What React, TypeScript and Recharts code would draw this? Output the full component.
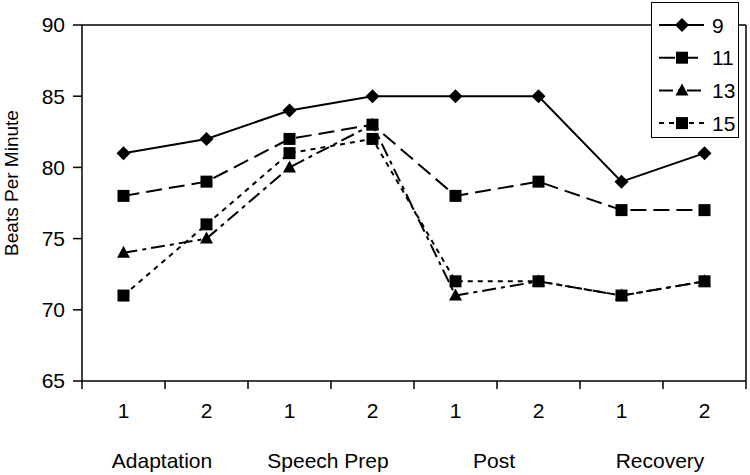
import React from 'react';
import { LineChart, Line, XAxis, YAxis, ReferenceLine } from 'recharts';

const categories = ['1', '2', '1', '2', '1', '2', '1', '2'];
const groups = ['Adaptation', 'Speech Prep', 'Post', 'Recovery'];
const s9 = [81, 82, 84, 85, 85, 85, 79, 81];
const s11 = [78, 79, 82, 83, 78, 79, 77, 77];
const s13 = [74, 75, 80, 83, 71, 72, 71, 72];
const s15 = [71, 76, 81, 82, 72, 72, 71, 72];
const yTicks = [65, 70, 75, 80, 85, 90];
const xBounds = [0, 1, 2, 3, 4, 5, 6, 7, 8];

const seriesDefs = [
  { key: 's9', name: '9', values: s9, shape: 'diamond', dash: undefined as string | undefined },
  { key: 's11', name: '11', values: s11, shape: 'square', dash: '16 7' },
  { key: 's13', name: '13', values: s13, shape: 'triangle', dash: '14 5 4 5' },
  { key: 's15', name: '15', values: s15, shape: 'square', dash: '5 5' },
];

const data = categories.map((c, i) => ({
  x: i + 0.5,
  s9: s9[i],
  s11: s11[i],
  s13: s13[i],
  s15: s15[i],
}));

const FONT = 'Liberation Sans, Arial, sans-serif';
const W = 750;
const H = 475;
const M = { top: 25, right: 4, bottom: 0, left: 0 };
const YW = 82;
const PLOT_W = W - M.left - M.right - YW;
const BAND = PLOT_W / 8;

function Marker({ cx, cy, shape }: { cx: number; cy: number; shape: string }) {
  if (cx == null || cy == null) return null;
  if (shape === 'diamond') {
    const r = 7;
    return <path d={`M${cx},${cy - r}L${cx + r},${cy}L${cx},${cy + r}L${cx - r},${cy}Z`} fill="#000" />;
  }
  if (shape === 'triangle') {
    return <path d={`M${cx},${cy - 7}L${cx + 6.5},${cy + 5}L${cx - 6.5},${cy + 5}Z`} fill="#000" />;
  }
  return <rect x={cx - 6} y={cy - 6} width={12} height={12} fill="#000" />;
}

function XTick(props: any) {
  const { x, y, payload } = props;
  const v = payload.value as number;
  return (
    <g>
      <line x1={x} y1={y} x2={x} y2={y + 8} stroke="#000" strokeWidth={1.5} />
      {v < 8 && (
        <text x={x + BAND / 2} y={418} textAnchor="middle" fontSize={21} fontFamily={FONT} fill="#000">
          {categories[v]}
        </text>
      )}
      {v % 2 === 1 && (
        <text x={x - 3} y={468} textAnchor="middle" fontSize={21} fontFamily={FONT} fill="#000">
          {groups[(v - 1) / 2]}
        </text>
      )}
    </g>
  );
}

function LegendBox() {
  return (
    <div
      style={{
        position: 'absolute',
        left: 651,
        top: 2,
        width: 86,
        height: 134,
        border: '1.5px solid #000',
        background: '#fff',
      }}
    >
      <svg width={86} height={134}>
        {seriesDefs.map((s, i) => {
          const cy = 22 + i * 32.7;
          return (
            <g key={s.key}>
              <line x1={7} y1={cy} x2={52} y2={cy} stroke="#000" strokeWidth={2} strokeDasharray={s.dash} />
              <Marker cx={30} cy={cy} shape={s.shape} />
              <text x={60} y={cy + 7.5} fontSize={21} fontFamily={FONT} fill="#000">
                {s.name}
              </text>
            </g>
          );
        })}
      </svg>
    </div>
  );
}

export default function App() {
  return (
    <div style={{ position: 'absolute', left: 0, top: 0, width: W, height: H, background: '#fff' }}>
      <LineChart width={W} height={H} data={data} margin={M}>
        <XAxis
          type="number"
          dataKey="x"
          domain={[0, 8]}
          ticks={xBounds}
          interval={0}
          height={H - 381}
          tickLine={false}
          tickSize={0}
          tickMargin={0}
          axisLine={{ stroke: '#000', strokeWidth: 1.5 }}
          tick={<XTick />}
        />
        <YAxis
          type="number"
          domain={[65, 90]}
          ticks={yTicks}
          interval={0}
          width={YW}
          tickSize={9}
          tickMargin={8}
          axisLine={{ stroke: '#000', strokeWidth: 1.5 }}
          tickLine={{ stroke: '#000', strokeWidth: 1.5 }}
          tick={{ fontSize: 21, fill: '#000', fontFamily: FONT }}
          label={{
            value: 'Beats Per Minute',
            angle: -90,
            position: 'insideLeft',
            dx: 6,
            dy: -20,
            style: { fontSize: 19, fill: '#000', fontFamily: FONT, textAnchor: 'middle' },
          }}
        />
        <ReferenceLine y={90} stroke="#000" strokeWidth={1.5} />
        <ReferenceLine x={8} stroke="#000" strokeWidth={1.5} />
        {seriesDefs.map((s) => (
          <Line
            key={s.key}
            type="linear"
            dataKey={s.key}
            name={s.name}
            stroke="#000"
            strokeWidth={2}
            strokeDasharray={s.dash}
            isAnimationActive={false}
            dot={(p: any) => <Marker key={`${s.key}-${p.index}`} cx={p.cx} cy={p.cy} shape={s.shape} />}
            activeDot={false}
          />
        ))}
      </LineChart>
      <LegendBox />
    </div>
  );
}
